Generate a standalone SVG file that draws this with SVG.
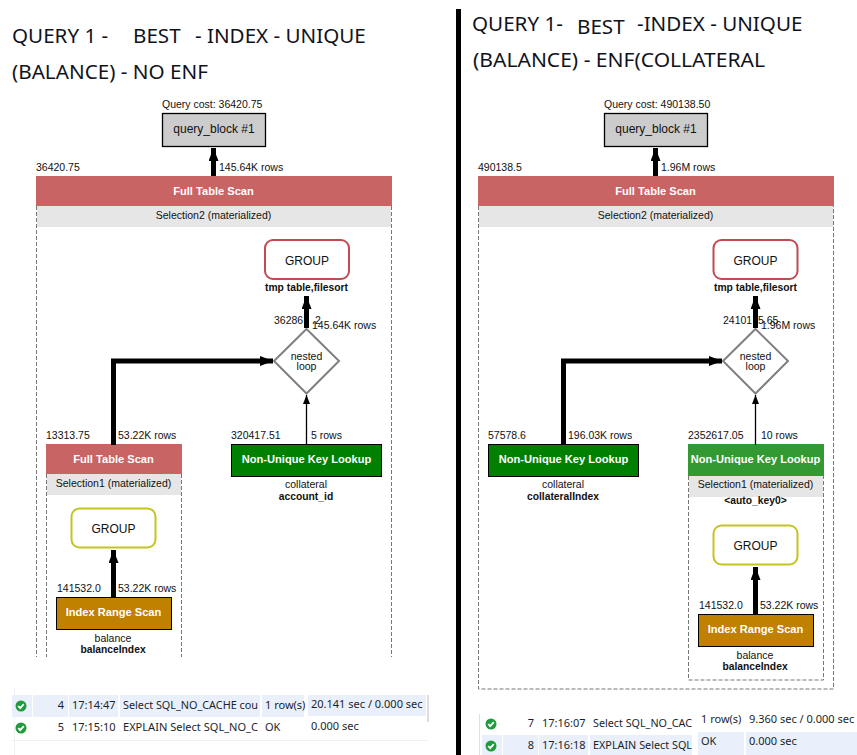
<svg xmlns="http://www.w3.org/2000/svg" width="857" height="755" viewBox="0 0 857 755">
<style>
text{font-family:"Liberation Sans",Arial,sans-serif;fill:#111}
.t{font-family:"Noto Sans","Open Sans",sans-serif;font-size:20.600px;fill:#10131c}
.s{font-size:10.500px}
.m{text-anchor:middle}
.b{font-weight:bold;font-size:10.300px}
.n{font-size:11.100px;font-weight:bold;fill:#fff;text-anchor:middle}
.l{font-size:12px;text-anchor:middle}
.qb{fill:#ccc;stroke:#000;stroke-width:1.3}
.dash{fill:none;stroke:#777;stroke-width:1;stroke-dasharray:4 2}
.hdr{fill:#e6e6e6}
.fts{fill:#c96464}
.thick{fill:none;stroke:#000;stroke-width:5}
.thin{fill:none;stroke:#000;stroke-width:1.3}
.dia{fill:#fff;stroke:#808080;stroke-width:2}
.grp{fill:#fff;stroke-width:2}
.row{fill:#e9f0fb}
.g{fill:#1f9a3c}
.r{font-family:"Noto Sans","Open Sans",sans-serif;font-size:11px;fill:#1a1f2c}
</style>
<defs>
<marker id="ah" markerUnits="userSpaceOnUse" markerWidth="14" markerHeight="12" refX="13" refY="5" orient="auto"><path d="M0 0L13 5L0 10Z" fill="#000"/></marker>
<marker id="ahs" markerUnits="userSpaceOnUse" markerWidth="10" markerHeight="8" refX="9" refY="3.500" orient="auto"><path d="M0 0L9 3.500L0 7Z" fill="#000"/></marker>
<g id="ok"><circle r="5.500" class="g"/><path d="M-2.800 0L-0.800 2.200L2.800-1.800" fill="none" stroke="#fff" stroke-width="1.800"/></g>
</defs>

<g id="title-left"><text class="t" x="12" y="43">QUERY 1 -</text><text class="t" x="133" y="43">BEST</text><text class="t" x="195" y="43">- INDEX - UNIQUE</text><text class="t" x="12" y="79" textLength="196" lengthAdjust="spacingAndGlyphs">(BALANCE) - NO ENF</text></g>
<g id="title-right"><text class="t" x="472" y="31">QUERY 1-</text><text class="t" x="577" y="34">BEST</text><text class="t" x="637" y="31">-INDEX - UNIQUE</text><text class="t" x="473" y="67" textLength="292" lengthAdjust="spacingAndGlyphs">(BALANCE) - ENF(COLLATERAL</text></g>
<rect id="divider" x="456" y="9" width="5" height="746" fill="#000"/>

<g id="q1-block"><text class="s" x="162" y="108">Query cost: 36420.75</text><rect class="qb" x="162.500" y="113.500" width="103" height="33"/><text class="l" x="214" y="133">query_block #1</text></g>
<g id="q1-scan"><text class="s" x="36" y="171">36420.75</text><text class="s" x="219" y="171">145.64K rows</text>
<path class="dash" d="M36.500 206V657M391.500 206V657"/>
<rect class="fts" x="36" y="176" width="356" height="30"/><rect class="hdr" x="37" y="206" width="354" height="21"/>
<text class="n" x="213.500" y="195">Full Table Scan</text><text class="s m" x="213.500" y="219">Selection2 (materialized)</text></g>
<g id="q1-group"><rect class="grp" x="265" y="240" width="84" height="39" rx="8" stroke="#c04b50"/><text class="l" x="307" y="265">GROUP</text><text class="s m b" x="306.500" y="291">tmp table,filesort</text></g>
<g id="q1-loop"><path class="dia" d="M306.500 329L339 361L306.500 393.500L274 361Z"/><text class="s m" x="306.500" y="360">nested</text><text class="s m" x="306.500" y="370">loop</text><text class="s" x="274" y="324">36286</text><text class="s" x="312" y="329">145.64K rows</text><text class="s" x="312" y="324">.2</text></g>
<g id="q1-lookup"><text class="s" x="231" y="439">320417.51</text><text class="s" x="311" y="439">5 rows</text><rect x="231.500" y="444.500" width="150" height="32" fill="#008000" stroke="#000"/><text class="n" x="306.500" y="463">Non-Unique Key Lookup</text><text class="s m" x="306" y="488">collateral</text><text class="s m b" x="306" y="500">account_id</text></g>
<g id="q1-sel1"><text class="s" x="46" y="439">13313.75</text><text class="s" x="118" y="439">53.22K rows</text>
<path class="dash" d="M46.500 474V657M181.500 474V657"/>
<rect class="fts" x="46" y="444" width="136" height="30"/><rect class="hdr" x="47" y="474" width="134" height="21"/>
<text class="n" x="113.500" y="463">Full Table Scan</text><text class="s m" x="113.500" y="487">Selection1 (materialized)</text></g>
<g id="q1-group2"><rect class="grp" x="71.500" y="508.500" width="84" height="39" rx="8" stroke="#c4c41e"/><text class="l" x="113.500" y="533">GROUP</text></g>
<g id="q1-range"><text class="s" x="57" y="592">141532.0</text><text class="s" x="118" y="592">53.22K rows</text><rect x="56.500" y="597.500" width="115" height="32" fill="#c08000" stroke="#000"/><text class="n" x="113.500" y="616">Index Range Scan</text><text class="s m" x="113" y="642">balance</text><text class="s m b" x="113" y="653">balanceIndex</text></g>

<g id="q2-block"><text class="s" x="604" y="108">Query cost: 490138.50</text><rect class="qb" x="604.500" y="113.500" width="103" height="33"/><text class="l" x="656" y="133">query_block #1</text></g>
<g id="q2-scan"><text class="s" x="478" y="171">490138.5</text><text class="s" x="661" y="171">1.96M rows</text>
<path class="dash" d="M478.500 206V689H833.500V206"/>
<rect class="fts" x="478" y="176" width="356" height="30"/><rect class="hdr" x="479" y="206" width="354" height="21"/>
<text class="n" x="655.500" y="195">Full Table Scan</text><text class="s m" x="655.500" y="219">Selection2 (materialized)</text></g>
<g id="q2-group"><rect class="grp" x="713.500" y="240" width="84" height="39" rx="8" stroke="#c04b50"/><text class="l" x="755.500" y="265">GROUP</text><text class="s m b" x="755.500" y="291">tmp table,filesort</text></g>
<g id="q2-loop"><path class="dia" d="M755.500 329L788 361L755.500 393.500L723 361Z"/><text class="s m" x="755.500" y="360">nested</text><text class="s m" x="755.500" y="370">loop</text><text class="s" x="723" y="324">24101</text><text class="s" x="761" y="329">1.96M rows</text><text class="s" x="758" y="324">5.65</text></g>
<g id="q2-lookup1"><text class="s" x="488" y="439">57578.6</text><text class="s" x="568" y="439">196.03K rows</text><rect x="488.500" y="444.500" width="150" height="32" fill="#008000" stroke="#000"/><text class="n" x="563.500" y="463">Non-Unique Key Lookup</text><text class="s m" x="563" y="488">collateral</text><text class="s m b" x="563" y="500">collateralIndex</text></g>
<g id="q2-sel1"><text class="s" x="688" y="439">2352617.05</text><text class="s" x="761" y="439">10 rows</text>
<path class="dash" d="M688.500 476V680H823.500V476"/>
<rect x="688" y="444" width="136" height="32" fill="#339933"/><rect class="hdr" x="689" y="476" width="134" height="21"/>
<text class="n" x="755.500" y="463">Non-Unique Key Lookup</text><text class="s m" x="755.500" y="488">Selection1 (materialized)</text><text class="s m b" x="755.500" y="504">&lt;auto_key0&gt;</text></g>
<g id="q2-group2"><rect class="grp" x="713.500" y="525.500" width="84" height="39" rx="8" stroke="#c4c41e"/><text class="l" x="755.500" y="550">GROUP</text></g>
<g id="q2-range"><text class="s" x="699" y="609">141532.0</text><text class="s" x="760" y="609">53.22K rows</text><rect x="698.500" y="614.500" width="115" height="32" fill="#c08000" stroke="#000"/><text class="n" x="755.500" y="633">Index Range Scan</text><text class="s m" x="755" y="659">balance</text><text class="s m b" x="755" y="670">balanceIndex</text></g>

<g id="connectors">
<path class="thick" d="M213.500 176V148" marker-end="url(#ah)"/>
<path class="thick" d="M306.500 328V296" marker-end="url(#ah)"/>
<path class="thick" d="M113.500 445V361H273" marker-end="url(#ah)"/>
<path class="thin" d="M306.500 445V395" marker-end="url(#ahs)"/>
<path class="thick" d="M113.500 597V550" marker-end="url(#ah)"/>
<path class="thick" d="M655.500 176V148" marker-end="url(#ah)"/>
<path class="thick" d="M755.500 328V296" marker-end="url(#ah)"/>
<path class="thick" d="M563.500 445V361H722" marker-end="url(#ah)"/>
<path class="thin" d="M755.500 445V395" marker-end="url(#ahs)"/>
<path class="thick" d="M755.500 614V567" marker-end="url(#ah)"/>
</g>

<g id="grid-left">
<path d="M14.500 688V755M12 740.500H428" fill="none" stroke="#edf0f5"/>
<rect x="427" y="695" width="2" height="27" fill="#ddd"/>
<rect class="row" x="12" y="695" width="20" height="22"/><rect class="row" x="33" y="695" width="35" height="22"/><rect class="row" x="69" y="695" width="49" height="22"/><rect class="row" x="120" y="695" width="140" height="22"/><rect class="row" x="262" y="695" width="42" height="22"/><rect class="row" x="308" y="695" width="118" height="21"/>
<use href="#ok" x="21" y="706"/><use href="#ok" x="21" y="728"/>
<text class="r" x="64" y="709" text-anchor="end">4</text><text class="r" x="72" y="709">17:14:47</text><text class="r" x="123" y="709" textLength="135" lengthAdjust="spacingAndGlyphs">Select SQL_NO_CACHE cou</text><text class="r" x="265" y="709">1 row(s)</text><text class="r" x="311" y="708">20.141 sec / 0.000 sec</text>
<text class="r" x="64" y="731" text-anchor="end">5</text><text class="r" x="72" y="731">17:15:10</text><text class="r" x="123" y="731" textLength="135" lengthAdjust="spacingAndGlyphs">EXPLAIN Select SQL_NO_C</text><text class="r" x="265" y="731">OK</text><text class="r" x="311" y="730">0.000 sec</text>
</g>
<g id="grid-right">
<path d="M479.500 714V755" fill="none" stroke="#dde"/>
<rect class="row" x="482" y="735" width="20" height="20"/><rect class="row" x="503" y="735" width="35" height="20"/><rect class="row" x="539" y="735" width="49" height="20"/><rect class="row" x="590" y="735" width="102" height="20"/><rect class="row" x="698" y="732" width="46" height="23"/><rect class="row" x="746" y="732" width="111" height="23"/>
<use href="#ok" x="491" y="724"/><use href="#ok" x="491" y="746"/>
<text class="r" x="534" y="727" text-anchor="end">7</text><text class="r" x="542" y="727">17:16:07</text><text class="r" x="593" y="727" textLength="99" lengthAdjust="spacingAndGlyphs">Select SQL_NO_CAC</text><text class="r" x="701" y="723">1 row(s)</text><text class="r" x="749" y="723">9.360 sec / 0.000 sec</text>
<text class="r" x="534" y="749" text-anchor="end">8</text><text class="r" x="542" y="749">17:16:18</text><text class="r" x="593" y="749" textLength="99" lengthAdjust="spacingAndGlyphs">EXPLAIN Select SQL</text><text class="r" x="701" y="745">OK</text><text class="r" x="749" y="745">0.000 sec</text>
</g>
</svg>
